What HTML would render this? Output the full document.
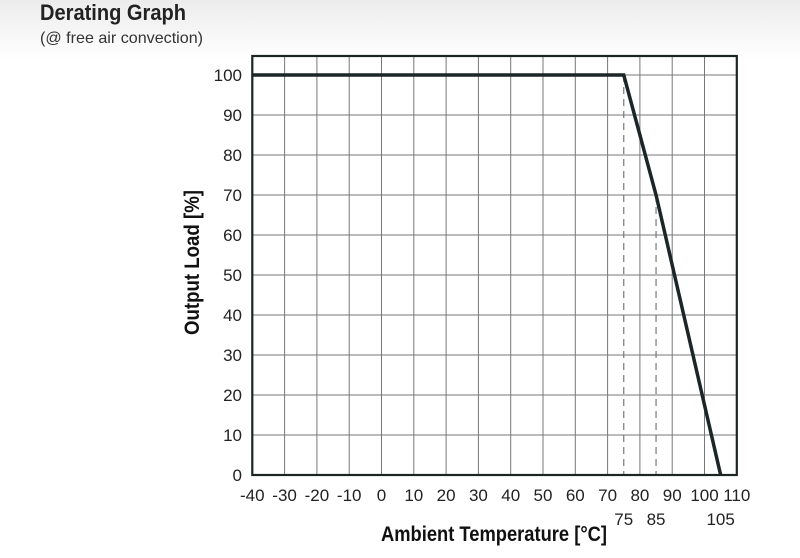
<!DOCTYPE html>
<html><head><meta charset="utf-8"><style>
body{margin:0;width:800px;height:558px;overflow:hidden;background:#fff;font-family:"Liberation Sans Narrow","Liberation Sans",sans-serif;}
#bg{position:absolute;left:0;top:0;width:800px;height:60px;background:linear-gradient(#ececec,#fff);}
.t{position:absolute;color:#222;}
</style></head><body>
<div id="bg"></div>
<svg id="c" width="800" height="558" style="position:absolute;left:0;top:0"></svg>
<script>
const xTicks=[-40,-30,-20,-10,0,10,20,30,40,50,60,70,80,90,100,110];
const yTicks=[0,10,20,30,40,50,60,70,80,90,100];
const extraTicks=[75,85,105];
const curveTemp=[-40,75,85,105];
const curveLoad=[100,100,70,0];
const dashTemp=[75,85];
const dashLoad=[100,70];
const NS="http://www.w3.org/2000/svg";
const svg=document.getElementById('c');
const X=v=>252.3+(v+40)*3.23;
const Y=v=>475-v*4;
function el(t,a,p){const e=document.createElementNS(NS,t);for(const k in a)e.setAttribute(k,a[k]);(p||svg).appendChild(e);return e;}
const font='"Liberation Sans Narrow","Liberation Sans",sans-serif';
const ti=el('text',{x:40,y:20,'font-size':22,'font-weight':'bold','font-family':font,fill:'#222',textLength:146,lengthAdjust:'spacingAndGlyphs'});ti.textContent='Derating Graph';


const st=el('text',{x:40,y:43,'font-size':16,'font-family':font,fill:'#333',textLength:163,lengthAdjust:'spacingAndGlyphs'});st.textContent='(@ free air convection)';


const g=el('g',{});


xTicks.forEach(v=>{const l=el('line',{x1:X(v),x2:X(v),y1:56,y2:475,stroke:'#777','stroke-width':1},g);

});
yTicks.forEach(v=>{const l=el('line',{x1:252,x2:737,y1:Y(v),y2:Y(v),stroke:'#777','stroke-width':1},g);

});
dashTemp.forEach((v,i)=>{const l=el('line',{x1:X(v),x2:X(v),y1:Y(dashLoad[i]),y2:475,stroke:'#777','stroke-width':1.2,'stroke-dasharray':'7,5'});

});
const f=el('rect',{x:X(-40),y:56,width:X(110)-X(-40),height:475-56,fill:'none',stroke:'#1c2424','stroke-width':2.2});


const p=el('polyline',{points:curveTemp.map((t,i)=>X(t)+','+Y(curveLoad[i])).join(' '),fill:'none',stroke:'#1c2626','stroke-width':3.5,'stroke-linejoin':'miter'});


yTicks.forEach(v=>{const t=el('text',{x:242,y:Y(v)+6,'text-anchor':'end','font-size':17,'font-family':font,fill:'#222'});t.textContent=v;

});
xTicks.forEach(v=>{const t=el('text',{x:X(v),y:501,'text-anchor':'middle','font-size':17,'font-family':font,fill:'#222'});t.textContent=v;

});
extraTicks.forEach(v=>{const t=el('text',{x:X(v),y:525,'text-anchor':'middle','font-size':17,'font-family':font,fill:'#222'});t.textContent=v;

});
const xt=el('text',{x:381,y:541,'font-size':21,'font-weight':'bold','font-family':font,fill:'#111',textLength:226,lengthAdjust:'spacingAndGlyphs'});xt.textContent='Ambient Temperature [°C]';


const yt=el('text',{x:0,y:0,transform:'translate(199,335) rotate(-90)','font-size':21,'font-weight':'bold','font-family':font,fill:'#111',textLength:145,lengthAdjust:'spacingAndGlyphs'});yt.textContent='Output Load [%]';


</script>
</body></html>
